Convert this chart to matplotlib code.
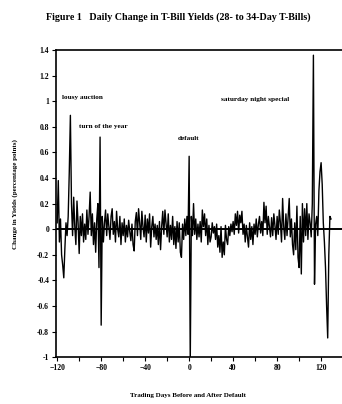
import numpy as np
import matplotlib
matplotlib.use('Agg')
import matplotlib.pyplot as plt

# Daily change in T-bill yields, trading days -120 .. 129 around the default
DAY_START = -120
CHANGES = [
    0.05, 0.38, -0.10, 0.08, -0.20, -0.28, -0.38, -0.15, 0.05, -0.05,    # -120
    0.10, 0.45, 0.89, 0.20, -0.05, 0.25, 0.02, -0.12, 0.22, 0.05,        # -110
    -0.19, 0.10, -0.05, 0.12, -0.10, 0.04, -0.08, 0.15, -0.04, 0.10,     # -100
    0.29, -0.05, 0.12, -0.12, 0.05, -0.18, 0.08, 0.20, -0.30, 0.72,      # -90
    -0.75, 0.10, -0.10, 0.05, 0.15, -0.05, 0.12, 0.02, -0.08, 0.10,      # -80
    0.16, -0.04, 0.06, -0.10, 0.14, 0.00, -0.06, 0.10, -0.12, 0.05,      # -70
    -0.05, 0.08, -0.10, 0.03, -0.06, 0.07, -0.02, -0.09, 0.04, -0.12,    # -60
    -0.17, 0.06, 0.13, -0.05, 0.16, 0.05, -0.08, 0.14, 0.02, -0.06,      # -50
    0.11, -0.10, 0.08, -0.03, 0.12, -0.14, 0.02, 0.10, -0.06, 0.04,      # -40
    -0.08, 0.03, -0.12, 0.06, -0.16, 0.02, 0.14, -0.04, 0.15, 0.05,      # -30
    -0.06, 0.12, -0.10, 0.03, -0.08, 0.10, -0.12, 0.02, -0.15, 0.06,     # -20
    -0.10, 0.05, -0.18, -0.22, 0.04, -0.08, 0.08, -0.05, 0.10, -0.04,    # -10
    0.57, -1.05, 0.10, -0.05, 0.20, -0.04, 0.08, -0.08, 0.04, -0.06,     # 0
    0.06, -0.10, 0.15, 0.02, 0.12, -0.05, 0.08, -0.12, 0.03, -0.10,      # 10
    -0.06, 0.05, -0.03, 0.02, -0.08, 0.04, -0.14, -0.05, -0.18, 0.02,    # 20
    -0.22, -0.10, -0.20, 0.03, -0.08, -0.12, 0.02, -0.05, 0.04, -0.02,   # 30
    0.06, -0.04, 0.12, 0.03, 0.14, -0.03, 0.11, 0.05, 0.14, -0.04,       # 40
    0.04, -0.10, 0.03, -0.06, -0.14, 0.05, -0.08, 0.02, -0.12, 0.04,     # 50
    -0.04, 0.08, -0.06, 0.04, 0.10, -0.03, 0.06, -0.05, 0.21, 0.05,      # 60
    0.18, -0.04, 0.10, 0.02, -0.06, 0.09, -0.05, 0.12, 0.03, -0.08,      # 70
    0.10, -0.04, 0.15, 0.05, -0.10, 0.24, 0.02, -0.08, 0.12, -0.05,      # 80
    0.10, 0.24, -0.06, 0.08, -0.12, -0.20, 0.05, -0.16, 0.18, -0.22,     # 90
    -0.30, 0.10, -0.35, 0.20, -0.10, 0.16, -0.05, 0.20, -0.08, 0.12,     # 100
    0.05, -0.06, 0.20, 1.36, -0.43, 0.04, 0.10, -0.05, 0.30, 0.45,       # 110
    0.52, 0.35, 0.05, -0.10, -0.30, -0.60, -0.85, -0.20, 0.10, 0.08,     # 120
]
days = np.arange(DAY_START, DAY_START + len(CHANGES))

# Annotations: (text, day, value)
NOTES = [
    ('lousy auction', -116, 1.03),
    ('turn of the year', -100, 0.80),
    ('default', -10, 0.71),
    ('saturday night special', 29, 1.01),
]

X_TICKS = [-120, -80, -40, 0, 40, 80, 120]
Y_TICKS = [-1, -0.8, -0.6, -0.4, -0.2, 0, 0.2, 0.4, 0.6, 0.8, 1, 1.2, 1.4]
Y_LABELS = ['-1', '-0.8', '-0.6', '-0.4', '-0.2', '0', '0.2', '0.4', '0.6', '0.8', '1', '1.2', '1.4']

plt.rcParams['font.family'] = ['Liberation Serif', 'DejaVu Serif']

fig = plt.figure(figsize=(3.42, 4.04), dpi=100)
ax = fig.add_axes([0.164, 0.116, 0.836, 0.76])

ax.plot(days, CHANGES, color='black', linewidth=1.0)
ax.axhline(0, color='black', linewidth=1.4)

ax.set_xlim(-121, 139)
ax.set_ylim(-1, 1.4)
ax.set_xticks(X_TICKS)
ax.set_xticks(np.arange(-120, 140, 20), minor=True)
ax.set_yticks(Y_TICKS)
ax.set_yticklabels(Y_LABELS)
ax.tick_params(axis='both', labelsize=5.5, length=3, width=0.8, direction='out', pad=2)
ax.tick_params(axis='x', which='minor', length=3, width=0.8)
for lab in ax.get_xticklabels() + ax.get_yticklabels():
    lab.set_fontweight('bold')
ax.spines['right'].set_visible(False)
for s in ['left', 'bottom', 'top']:
    ax.spines[s].set_linewidth(1.2)

for text, d, v in NOTES:
    ax.text(d, v, text, fontsize=5.2, fontweight='bold', ha='left', va='center')

fig.text(0.52, 0.957, 'Figure 1   Daily Change in T-Bill Yields (28- to 34-Day T-Bills)',
         fontsize=7.2, fontweight='bold', ha='center', va='center')
fig.text(0.55, 0.022, 'Trading Days Before and After Default',
         fontsize=5, fontweight='bold', ha='center', va='center')
fig.text(0.045, 0.52, 'Change in Yields (percentage points)',
         fontsize=5, fontweight='bold', rotation=90, ha='center', va='center')

fig.savefig('out.png', dpi=100)
